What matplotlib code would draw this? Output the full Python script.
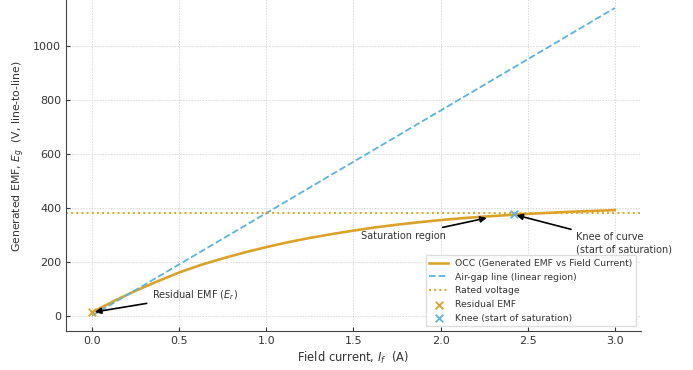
import numpy as np
import matplotlib
matplotlib.use('Agg')
import matplotlib.pyplot as plt

# OCC values (field current in A, EMF in V)
field_current = [0.0, 0.125, 0.25, 0.375, 0.5, 0.625, 0.75, 0.875, 1.0, 1.125,
                 1.25, 1.375, 1.5, 1.625, 1.75, 1.875, 2.0, 2.125, 2.25, 2.375,
                 2.5, 2.625, 2.75, 2.875, 3.0]
occ_emf = [12, 54, 92, 127, 160, 188, 212, 234, 254, 272,
           288, 302, 315, 327, 337, 346, 354, 361, 367, 372,
           377, 381, 385, 388, 391]

airgap_current = [0.0, 3.0]
airgap_emf = [0, 1140]

rated_voltage = 380
residual_point = (0.0, 12)
knee_point = (2.42, 375)

c_occ = '#DBA22A'
c_air = '#5BB3DC'
c_rated = '#E3A21E'

plt.rcParams['font.family'] = 'DejaVu Sans'
fig = plt.figure(figsize=(6.93, 3.70), dpi=100)
ax = fig.add_axes([0.0952, 0.1054, 0.8297, 0.9146])

ax.plot(field_current, occ_emf, color=c_occ, lw=1.9,
        label='OCC (Generated EMF vs Field Current)')
ax.plot(airgap_current, airgap_emf, '--', color=c_air, lw=1.3,
        label='Air-gap line (linear region)')
ax.axhline(rated_voltage, color=c_rated, ls=':', lw=1.4, label='Rated voltage')
ax.scatter([residual_point[0]], [residual_point[1]], marker='x', color=c_occ,
           s=30, lw=1.3, zorder=5, label='Residual EMF')
ax.scatter([knee_point[0]], [knee_point[1]], marker='x', color=c_air,
           s=30, lw=1.3, zorder=5, label='Knee (start of saturation)')

arrow = dict(arrowstyle='-|>', color='black', lw=1.2, mutation_scale=9)
ax.annotate('Residual EMF ($E_r$)', xy=residual_point, xytext=(0.345, 75),
            va='center', fontsize=7, color='#333333', arrowprops=arrow)
ax.annotate('Saturation region', xy=(2.28, 364), xytext=(1.545, 296),
            va='center', fontsize=7, color='#333333', arrowprops=arrow)
ax.annotate('Knee of curve\n(start of saturation)', xy=knee_point,
            xytext=(2.78, 268), va='center', fontsize=7, color='#333333',
            arrowprops=arrow)

ax.set_xlabel('Field current, $I_f$  (A)', fontsize=8.3, color='#333333', labelpad=3)
ax.set_ylabel('Generated EMF, $E_g$  (V, line-to-line)', fontsize=7.8,
              color='#333333')
ax.yaxis.set_label_coords(-0.068, 0.517)

ax.set_xticks([0.0, 0.5, 1.0, 1.5, 2.0, 2.5, 3.0])
ax.set_yticks([0, 200, 400, 600, 800, 1000])
ax.tick_params(direction='in', labelsize=8, colors='#333333', length=3)
ax.grid(True, ls=(0, (2, 2)), lw=0.5, color='#c8c8c8')
for side in ['top', 'right']:
    ax.spines[side].set_visible(False)
for side in ['left', 'bottom']:
    ax.spines[side].set_color('#444444')

ax.legend(loc='lower right', fontsize=6.7, frameon=True, framealpha=1.0,
          edgecolor='#dddddd', fancybox=False, labelcolor='#333333')

fig.savefig('out.png', dpi=100)
